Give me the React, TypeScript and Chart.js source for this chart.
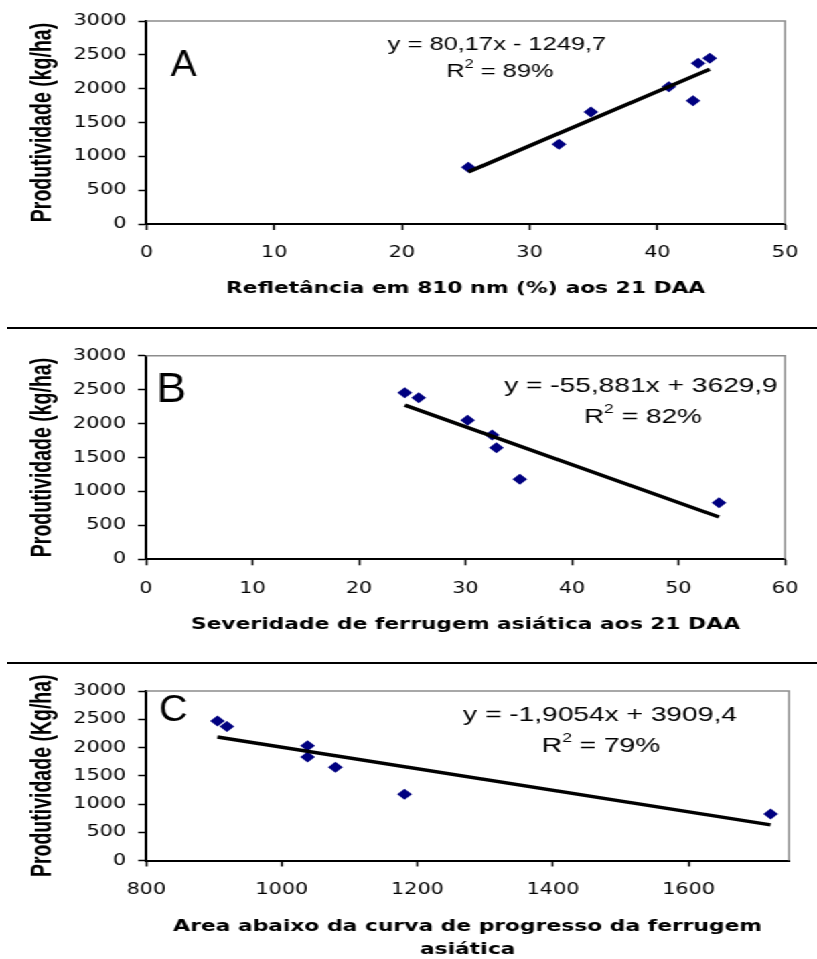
import React, { useEffect, useRef } from 'react';
import { Chart, registerables } from 'chart.js';

Chart.register(...registerables);

// ---------- data ----------
const reflectance810 = [25.2, 32.3, 34.8, 40.9, 42.8, 43.2, 44.1];
const yieldA = [840, 1180, 1655, 2030, 1820, 2375, 2450];
const trendA = [80.17, -1249.7];

const severity21 = [24.3, 25.6, 30.2, 32.5, 32.9, 35.1, 53.8];
const yieldB = [2455, 2380, 2050, 1830, 1645, 1178, 834];
const trendB = [-55.881, 3629.9];

const audpc = [905, 919, 1038, 1038, 1079, 1181, 1721];
const yieldC = [2470, 2370, 2030, 1830, 1650, 1172, 825];
const trendC = [-1.9054, 3909.4];

const equationLabels = ['y = 80,17x - 1249,7', 'y = -55,881x + 3629,9', 'y = -1,9054x + 3909,4'];
const r2Labels = [' = 89%', ' = 82%', ' = 79%'];
const panelLetters = ['A', 'B', 'C'];
const xTitles = [
  ['Refletância em 810 nm (%) aos 21 DAA'],
  ['Severidade de ferrugem asiática aos 21 DAA'],
  ['Area abaixo da curva de progresso da ferrugem', 'asiática'],
];
const yTitles = ['Produtividade (kg/ha)', 'Produtividade (kg/ha)', 'Produtividade (Kg/ha)'];
const xRanges = [
  [0, 50, 10],
  [0, 60, 10],
  [800, 1748, 200],
];
const yRange = [0, 3000, 500];

// ---------- layout ----------
const PAGE_W = 817;
const INNER_W = 610;
const S = PAGE_W / INNER_W;
const FONT = '"Liberation Sans", Arial, Helvetica, sans-serif';
const TICK_FONT = '"DejaVu Sans", Verdana, sans-serif';

type Cfg = {
  idx: number;
  xs: number[];
  ys: number[];
  trend: number[];
  top: number;
  height: number;
  area: { left: number; right: number; top: number; bottom: number };
  letter: { cx: number; base: number; size: number };
  eq: { cx: number; cy: number; size: number };
  r2: { cx: number; cy: number; size: number };
  titleY: number[];
};

const panels: Cfg[] = [
  {
    idx: 0, xs: reflectance810, ys: yieldA, trend: trendA,
    top: 0, height: 328,
    area: { left: 146.5, right: 801.7, top: 21, bottom: 224 },
    letter: { cx: 183.5, base: 76, size: 36 },
    eq: { cx: 497, cy: 45, size: 19 },
    r2: { cx: 500, cy: 72, size: 19 },
    titleY: [289],
  },
  {
    idx: 1, xs: severity21, ys: yieldB, trend: trendB,
    top: 330, height: 333,
    area: { left: 146, right: 800, top: 25.7, bottom: 229.3 },
    letter: { cx: 171.5, base: 72, size: 42 },
    eq: { cx: 641, cy: 56.7, size: 21 },
    r2: { cx: 643, cy: 87, size: 21 },
    titleY: [295],
  },
  {
    idx: 2, xs: audpc, ys: yieldC, trend: trendC,
    top: 665, height: 294,
    area: { left: 146.3, right: 789, top: 26, bottom: 195.5 },
    letter: { cx: 173.5, base: 56, size: 37 },
    eq: { cx: 600, cy: 50, size: 21 },
    r2: { cx: 601, cy: 81, size: 21 },
    titleY: [262, 285],
  },
];

function Panel({ cfg }: { cfg: Cfg }) {
  const ref = useRef<HTMLCanvasElement>(null);
  useEffect(() => {
    const canvas = ref.current;
    if (!canvas) return;
    const i = cfg.idx;
    const a = {
      left: cfg.area.left / S,
      right: cfg.area.right / S,
      top: cfg.area.top,
      bottom: cfg.area.bottom,
    };
    const H = cfg.height;
    const pts = cfg.xs.map((x, k) => ({ x, y: cfg.ys[k] }));
    const xmin = Math.min(...cfg.xs);
    const xmax = Math.max(...cfg.xs);
    const trendPts = [xmin, xmax].map((x) => ({ x, y: cfg.trend[0] * x + cfg.trend[1] }));
    const [xMin, xMax, xStep] = xRanges[i];

    const overlay = {
      id: 'overlay',
      beforeDatasetsDraw(chart: any) {
        const ctx = chart.ctx;
        const ca = chart.chartArea;
        ctx.save();
        ctx.strokeStyle = '#8c8c8c';
        ctx.lineWidth = 1.5;
        ctx.beginPath();
        ctx.moveTo(ca.left, ca.top);
        ctx.lineTo(ca.right, ca.top);
        ctx.lineTo(ca.right, ca.bottom);
        ctx.stroke();
        ctx.restore();
      },
      afterDraw(chart: any) {
        const ctx = chart.ctx;
        const ca = chart.chartArea;
        ctx.save();
        ctx.fillStyle = '#000';
        // panel letter
        ctx.save();
        ctx.translate(cfg.letter.cx / S, cfg.letter.base);
        ctx.scale(0.8, 1);
        ctx.font = `${cfg.letter.size}px ${FONT}`;
        ctx.textAlign = 'center';
        ctx.textBaseline = 'alphabetic';
        ctx.fillText(panelLetters[i], 0, 0);
        ctx.restore();
        // equation
        ctx.font = `${cfg.eq.size}px ${FONT}`;
        ctx.textAlign = 'center';
        ctx.textBaseline = 'middle';
        ctx.fillText(equationLabels[i], cfg.eq.cx / S, cfg.eq.cy);
        // R^2
        const big = `${cfg.r2.size}px ${FONT}`;
        const small = `${Math.round(cfg.r2.size * 0.62)}px ${FONT}`;
        ctx.font = big;
        const wR = ctx.measureText('R').width;
        const wRest = ctx.measureText(r2Labels[i]).width;
        ctx.font = small;
        const w2 = ctx.measureText('2').width;
        const total = wR + w2 + wRest;
        let x = cfg.r2.cx / S - total / 2;
        ctx.textAlign = 'left';
        ctx.font = big;
        ctx.fillText('R', x, cfg.r2.cy);
        x += wR;
        ctx.font = small;
        ctx.fillText('2', x, cfg.r2.cy - cfg.r2.size * 0.38);
        x += w2;
        ctx.font = big;
        ctx.fillText(r2Labels[i], x, cfg.r2.cy);
        // x title
        ctx.font = `bold 16.3px ${TICK_FONT}`;
        ctx.textAlign = 'center';
        ctx.textBaseline = 'middle';
        const xc = (ca.left + ca.right) / 2;
        xTitles[i].forEach((line, k) => ctx.fillText(line, xc, cfg.titleY[k]));
        // y title
        ctx.save();
        ctx.translate(43.5 / S, (ca.top + ca.bottom) / 2);
        ctx.rotate(-Math.PI / 2);
        ctx.scale(1, 1.12);
        ctx.font = `bold 19.5px ${FONT}`;
        ctx.textAlign = 'center';
        ctx.textBaseline = 'middle';
        ctx.fillText(yTitles[i], 0, 0);
        ctx.restore();
        ctx.restore();
      },
    };

    const chart = new Chart(canvas, {
      type: 'scatter',
      data: {
        datasets: [
          {
            type: 'line',
            data: trendPts,
            borderColor: '#000',
            borderWidth: 3.5,
            pointRadius: 0,
            fill: false,
            order: 0,
          } as any,
          {
            data: pts,
            pointStyle: 'rectRot',
            pointRadius: 5.5,
            pointHoverRadius: 5.5,
            backgroundColor: '#000080',
            borderColor: '#000080',
            borderWidth: 0,
            order: 1,
          },
        ],
      },
      options: {
        responsive: false,
        maintainAspectRatio: false,
        animation: false,
        events: [],
        layout: { padding: { left: 0, top: a.top, right: INNER_W - a.right, bottom: 0 } },
        plugins: { legend: { display: false }, tooltip: { enabled: false }, title: { display: false } },
        scales: {
          x: {
            type: 'linear',
            position: 'bottom',
            min: xMin,
            max: xMax,
            ticks: {
              stepSize: xStep,
              includeBounds: false,
              autoSkip: false,
              maxRotation: 0,
              padding: 14,
              color: '#000',
              font: { family: TICK_FONT, size: 15.5 },
              callback: (v: any) => String(v),
            },
            grid: { drawOnChartArea: false, drawTicks: true, tickLength: 6, tickColor: '#000', tickWidth: 1.5 },
            border: { display: true, color: '#000', width: 2 },
            afterFit: (s: any) => {
              s.height = H - a.bottom;
            },
          },
          y: {
            type: 'linear',
            min: yRange[0],
            max: yRange[1],
            ticks: {
              stepSize: yRange[2],
              autoSkip: false,
              padding: 9,
              color: '#000',
              font: { family: TICK_FONT, size: 15.5 },
              callback: (v: any) => String(v),
            },
            grid: { drawOnChartArea: false, drawTicks: true, tickLength: 6, tickColor: '#000', tickWidth: 1.5 },
            border: { display: true, color: '#000', width: 2 },
            afterFit: (s: any) => {
              s.width = a.left;
            },
          },
        },
      },
      plugins: [overlay],
    } as any);
    return () => chart.destroy();
  }, [cfg]);
  return (
    <canvas
      ref={ref}
      width={INNER_W}
      height={cfg.height}
      style={{ position: 'absolute', left: 0, top: cfg.top, display: 'block' }}
    />
  );
}

export default function App() {
  return (
    <div
      style={{
        position: 'absolute',
        left: 0,
        top: 0,
        width: PAGE_W,
        height: 959,
        overflow: 'hidden',
        background: '#fff',
      }}
    >
      <div
        style={{
          position: 'absolute',
          left: 0,
          top: 0,
          width: INNER_W,
          height: 959,
          transform: `scaleX(${S})`,
          transformOrigin: '0 0',
        }}
      >
        {panels.map((p) => (
          <Panel key={p.idx} cfg={p} />
        ))}
      </div>
      <div style={{ position: 'absolute', left: 7, right: 0, top: 327, height: 2, background: '#000' }} />
      <div style={{ position: 'absolute', left: 7, right: 0, top: 662, height: 2, background: '#000' }} />
    </div>
  );
}
